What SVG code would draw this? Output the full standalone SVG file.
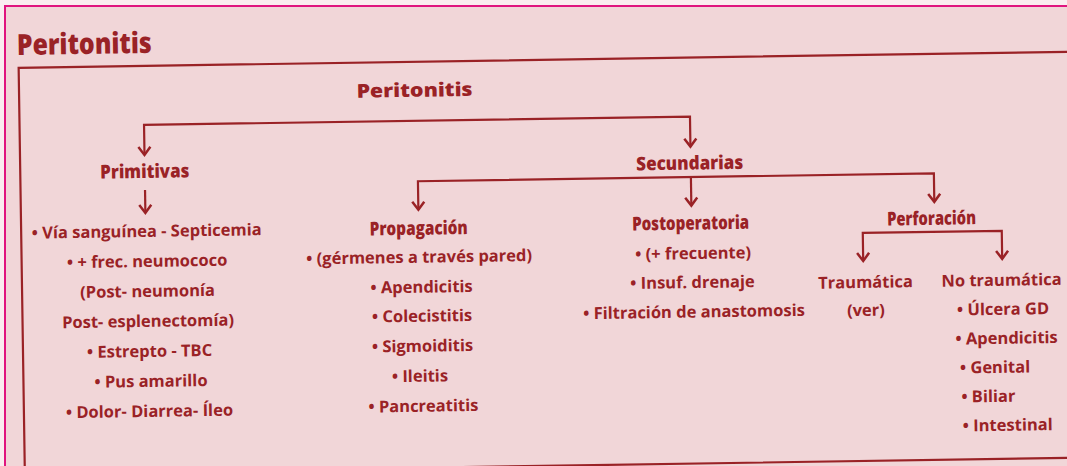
<svg xmlns="http://www.w3.org/2000/svg" width="1067" height="466" viewBox="0 0 1067 466">
<style>
text{font-family:"Open Sans","Noto Sans","Liberation Sans",sans-serif;fill:#9a2226}
.h{font-weight:800;font-size:19px;text-anchor:middle}
.i{font-weight:700;font-size:16.5px;text-anchor:middle}
.l{font-weight:700;font-size:16.5px;text-anchor:start}
.c{fill:none;stroke:#9a2226;stroke-width:2.2}
</style>
<defs>
<marker id="a" markerUnits="userSpaceOnUse" markerWidth="20" markerHeight="20" viewBox="-10 -10 20 20" refX="0" refY="0" orient="auto-start-reverse">
<path d="M-8,-6 L0,0 L-8,6" fill="none" stroke="#9a2226" stroke-width="2.5" stroke-linejoin="miter"/>
</marker>
</defs>
<rect width="1067" height="466" fill="#faeef0"/>
<rect x="5" y="6" width="1070" height="470" fill="#f1d6d8" stroke="#e0157f" stroke-width="2"/>
<g transform="rotate(-0.877 533 250)">
<rect x="21.5" y="60" width="1060" height="406" fill="none" stroke="#9a2226" stroke-width="2.2"/>
<g id="title"><text x="20" y="47" font-size="29" font-weight="800" textLength="135" lengthAdjust="spacingAndGlyphs">Peritonitis</text></g>
<g id="root"><text class="h" x="417" y="95" font-size="25" textLength="116" lengthAdjust="spacingAndGlyphs">Peritonitis</text></g>
<g id="connectors">
<path class="c" d="M146,149 V119 H692 V149" marker-start="url(#a)" marker-end="url(#a)"/>
<path class="c" d="M146,184 V207" marker-end="url(#a)"/>
<path class="c" d="M419,208 V179.5 H935 V208" marker-start="url(#a)" marker-end="url(#a)"/>
<path class="c" d="M692,179.5 V208" marker-end="url(#a)"/>
<path class="c" d="M863,266 V238 H1002 V266" marker-start="url(#a)" marker-end="url(#a)"/>
</g>
<g id="primitivas">
<text class="h" x="146" y="172" textLength="89" lengthAdjust="spacingAndGlyphs">Primitivas</text>
<text class="i" x="147" y="231">• Vía sanguínea - Septicemia</text>
<text class="i" x="147" y="261">• + frec. neumococo</text>
<text class="i" x="147" y="291">(Post- neumonía</text>
<text class="i" x="147" y="321">Post- esplenectomía)</text>
<text class="i" x="148" y="351">• Estrepto - TBC</text>
<text class="i" x="149" y="381">• Pus amarillo</text>
<text class="i" x="147" y="411">• Dolor- Diarrea- Íleo</text>
</g>
<g id="secundarias">
<text class="h" x="691" y="172" textLength="107" lengthAdjust="spacingAndGlyphs">Secundarias</text>
</g>
<g id="propagacion">
<text class="h" x="419" y="233" textLength="98" lengthAdjust="spacingAndGlyphs">Propagación</text>
<text class="i" x="419" y="261">• (gérmenes a través pared)</text>
<text class="i" x="421" y="291">• Apendicitis</text>
<text class="i" x="421" y="320">• Colecistitis</text>
<text class="i" x="421" y="350">• Sigmoiditis</text>
<text class="i" x="418" y="380">• Ileitis</text>
<text class="i" x="421" y="410">• Pancreatitis</text>
</g>
<g id="postoperatoria">
<text class="h" x="691" y="232" textLength="117" lengthAdjust="spacingAndGlyphs">Postoperatoria</text>
<text class="i" x="693" y="261.5">• (+ frecuente)</text>
<text class="i" x="692" y="290.5">• Insuf. drenaje</text>
<text class="i" x="693" y="320">• Filtración de anastomosis</text>
</g>
<g id="perforacion">
<text class="h" x="932" y="231" textLength="89" lengthAdjust="spacingAndGlyphs">Perforación</text>
</g>
<g id="traumatica">
<text class="i" x="865" y="293">Traumática</text>
<text class="i" x="865" y="321">(ver)</text>
</g>
<g id="no-traumatica">
<text class="i" x="1001" y="293">No traumática</text>
<text class="l" x="956" y="322">• Úlcera GD</text>
<text class="l" x="954" y="351">• Apendicitis</text>
<text class="l" x="958" y="380">• Genital</text>
<text class="l" x="959" y="409">• Biliar</text>
<text class="l" x="960" y="438">• Intestinal</text>
</g>
</g>
</svg>
